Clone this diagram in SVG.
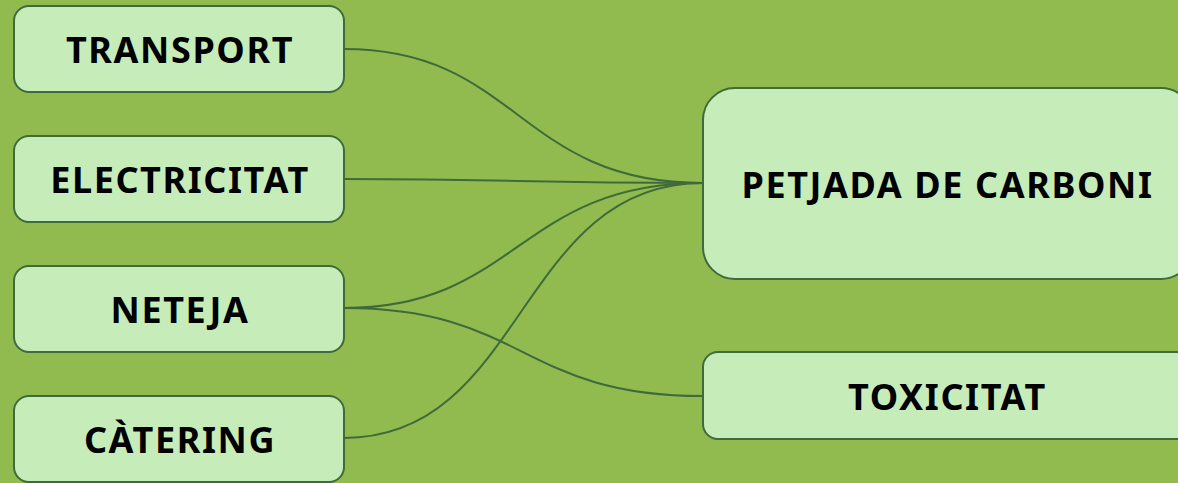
<svg xmlns="http://www.w3.org/2000/svg" width="1178" height="483" viewBox="0 0 1178 483">
<style>
.box{fill:#c6edb9;stroke:#3f6a3b;stroke-width:2}
.lbl{font-family:"Noto Sans","Open Sans",sans-serif;font-weight:700;font-size:36px;letter-spacing:1.6px;fill:#000;text-anchor:middle}
.edge{fill:none;stroke:#3f6a3b;stroke-width:2}
</style>
<rect x="0" y="0" width="1178" height="483" fill="#92bb4f"/>
<g id="connectors">
<path class="edge" d="M344,49 C518,49 518,183 703,183"/>
<path class="edge" d="M344,179 C518,179 518,183 703,183"/>
<path class="edge" d="M344,308 C518,308 518,183 703,183"/>
<path class="edge" d="M344,438 C525,438 518,183 703,183"/>
<path class="edge" d="M344,308 C525,308 520,396 703,396"/>
</g>
<g id="transport"><rect class="box" x="14" y="6" width="330" height="86" rx="15"/><text class="lbl" x="180" y="63">TRANSPORT</text></g>
<g id="electricitat"><rect class="box" x="14" y="136" width="330" height="86" rx="15"/><text class="lbl" x="180" y="193">ELECTRICITAT</text></g>
<g id="neteja"><rect class="box" x="14" y="266" width="330" height="86" rx="15"/><text class="lbl" x="180" y="323">NETEJA</text></g>
<g id="catering"><rect class="box" x="14" y="396" width="330" height="86" rx="15"/><text class="lbl" x="180" y="453">CÀTERING</text></g>
<g id="petjada"><rect class="box" x="703" y="88" width="490" height="191" rx="32"/><text class="lbl" x="947.5" y="198">PETJADA DE CARBONI</text></g>
<g id="toxicitat"><rect class="box" x="703" y="352" width="490" height="87" rx="15"/><text class="lbl" x="947.5" y="410">TOXICITAT</text></g>
</svg>
